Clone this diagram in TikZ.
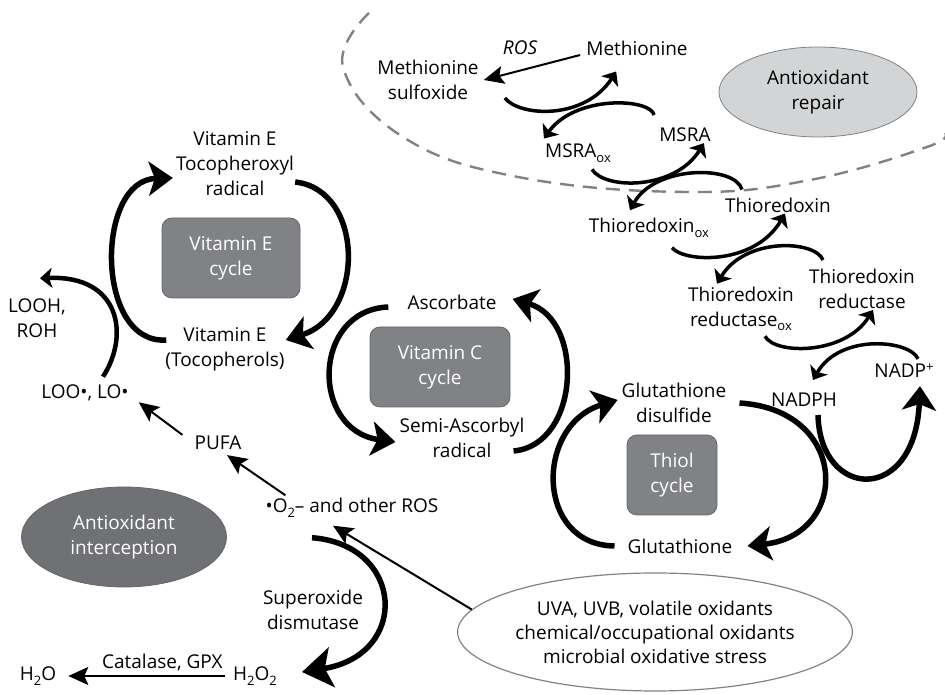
\documentclass[tikz,border=0pt]{standalone}
\usepackage{fontspec}
\setmainfont{Open Sans}
\usetikzlibrary{arrows.meta,shapes.geometric}
\definecolor{cyclegray}{RGB}{128,130,133}
\definecolor{edgegray}{RGB}{100,101,104}
\definecolor{intergray}{RGB}{112,113,116}
\definecolor{repairgray}{RGB}{211,212,213}
\definecolor{linegray}{RGB}{128,130,133}
\newcommand{\subtxt}[1]{\raisebox{-0.45ex}{\fontsize{13}{13}\selectfont #1}}
\newcommand{\suptxt}[1]{\raisebox{0.6ex}{\fontsize{13}{13}\selectfont #1}}

\begin{document}
\begin{tikzpicture}[x=1pt,y=1pt,
    every node/.style={font=\fontsize{19}{25}\selectfont, align=center, inner sep=1pt},
    cyclebox/.style={rounded corners=10pt, fill=cyclegray, draw=edgegray, line width=0.8pt,
      text=white, minimum height=80pt},
    thinarrow/.style={line width=2pt, -{Stealth[length=20pt,width=18pt,inset=4pt]}},
    swoosh/.style={line width=3.5pt, -{Stealth[length=12pt,width=20pt,inset=3pt]}},
    bigswoosh/.style={line width=5.5pt, -{Stealth[length=24pt,width=34pt,inset=6pt]}}]
  \useasboundingbox (0,0) rectangle (945,695);

  % repair region
  \draw[linegray, line width=2.4pt, dash pattern=on 14pt off 9pt]
    plot[smooth, tension=0.7] coordinates {(369,682) (343,628) (403,558) (518,518)
      (686,503) (810,515) (927,548) (945,562)};
  \node[ellipse, fill=repairgray, draw=linegray, line width=0.8pt,
    minimum width=198pt, minimum height=90pt, inner sep=0pt] (repair) at (818,603)
    {Antioxidant\\repair};

  \node (ros) at (520,647) {\itshape ROS};
  \node (meth) at (637,647) {Methionine};
  \node (msulf) at (428,615) {Methionine\\sulfoxide};
  \node (msra) at (685,560) {MSRA};
  \node (msraox) at (578,542) {MSRA\subtxt{ox}};
  \node (trx) at (778,490) {Thioredoxin};
  \node (trxox) at (649,467) {Thioredoxin\subtxt{ox}};
  \node (trr) at (862,406) {Thioredoxin\\reductase};
  \node (trrox) at (741,386) {Thioredoxin\\reductase\subtxt{ox}};
  \node (nadp) at (904,324) {NADP\suptxt{+}};
  \node (nadph) at (804,295) {NADPH};

  \draw[thinarrow] ([xshift=-5pt,yshift=-7pt]meth.west) -- ([xshift=4pt]msulf.east);
  \draw[swoosh] ([xshift=25pt,yshift=3pt]msulf.south east)
    .. controls (520,578) and (585,575) .. ([xshift=31pt,yshift=-15pt]meth.south west);
  \draw[swoosh] ([xshift=-4pt,yshift=20pt]msra.west)
    .. controls (650,597) and (575,600) .. ([yshift=4pt]msraox.north west);
  \draw[swoosh] ([xshift=14pt,yshift=-6pt]msraox.south)
    .. controls (605,505) and (675,505) .. ([xshift=-8pt]msra.south east);
  \draw[swoosh] ([xshift=18pt,yshift=7pt]trx.north west)
    .. controls (735,530) and (655,530) .. ([xshift=-19pt,yshift=7pt]trxox.north);
  \draw[swoosh] ([xshift=23pt,yshift=-9pt]trxox.south)
    .. controls (685,432) and (755,430) .. ([xshift=7pt]trx.south);
  \draw[swoosh] ([xshift=-39pt,yshift=8pt]trr.north)
    .. controls (815,455) and (745,458) .. ([xshift=-24pt,yshift=2pt]trrox.north);
  \draw[swoosh] ([xshift=24pt,yshift=-4pt]trrox.south)
    .. controls (775,340) and (845,340) .. ([xshift=11pt]trr.south);
  \draw[swoosh] ([xshift=14pt,yshift=4pt]nadp.north)
    .. controls (910,355) and (840,362) .. ([xshift=9pt,yshift=12pt]nadph.north);
  \draw[bigswoosh] ([xshift=14pt,yshift=-7pt]nadph.south)
    .. controls (820,195) and (915,190) .. ([xshift=16pt,yshift=-7pt]nadp.south);

  % thiol cycle
  \node (gssg) at (674,292) {Glutathione\\disulfide};
  \node[cyclebox, minimum width=90pt] (thiol) at (672,220) {Thiol\\cycle};
  \node (gsh) at (680,149) {Glutathione};
  \draw[bigswoosh] ([xshift=-12pt]gsh.west)
    .. controls (535,150) and (535,270) .. ([xshift=-3pt,yshift=3pt]gssg.west);
  \draw[bigswoosh] ([xshift=12pt]gssg.east)
    .. controls (850,285) and (850,160) .. ([xshift=14pt]gsh.east);

  % vitamin E cycle
  \node (vitEr) at (235,531) {Vitamin E\\Tocopheroxyl\\radical};
  \node[cyclebox, minimum width=138pt] (vitEbox) at (231,437) {Vitamin E\\cycle};
  \node (vitE) at (225,346) {Vitamin E\\(Tocopherols)};
  \draw[bigswoosh] ([xshift=2pt,yshift=9pt]vitE.west)
    .. controls (95,350) and (95,515) .. ([xshift=-2pt,yshift=-14pt]vitEr.west);
  \draw[bigswoosh] ([yshift=-18pt]vitEr.east)
    .. controls (365,505) and (365,380) .. ([yshift=9pt]vitE.east);

  % vitamin C cycle
  \node (asc) at (452,393) {Ascorbate};
  \node[cyclebox, minimum width=140pt] (vitCbox) at (440,328) {Vitamin C\\cycle};
  \node (semi) at (462,257) {Semi-Ascorbyl\\radical};
  \draw[bigswoosh] ([xshift=-18pt,yshift=-5pt]asc.west)
    .. controls (312,385) and (310,265) .. ([xshift=-3pt,yshift=-4pt]semi.west);
  \draw[bigswoosh] ([xshift=-12pt,yshift=-13pt]semi.east)
    .. controls (580,250) and (585,375) .. ([xshift=15pt,yshift=3pt]asc.east);

  % interception
  \node (looh) at (37,377) {LOOH,\\ROH};
  \node (loo) at (85,302) {LOO•, LO•};
  \node (pufa) at (218,252) {PUFA};
  \node (o2) at (352,187) {•O\subtxt{2}– and other ROS};
  \node[ellipse, fill=intergray, draw=edgegray, line width=0.8pt, text=white,
    minimum width=205pt, minimum height=100pt, inner sep=0pt] (intercept) at (124,158)
    {Antioxidant\\interception};
  \node (sod) at (313,85) {Superoxide\\dismutase};
  \node (h2o2) at (255,19) {H\subtxt{2}O\subtxt{2}};
  \node (h2o) at (38,19) {H\subtxt{2}O};
  \node[ellipse, draw=linegray, line width=1.2pt, minimum width=350pt,
    minimum height=118pt, inner sep=0pt, font=\fontsize{19}{24}\selectfont] (uva) at (655,63)
    {UVA, UVB, volatile oxidants\\chemical/occupational oxidants\\microbial oxidative stress};

  \draw[swoosh, line width=4.5pt] ([xshift=18pt,yshift=7pt]loo.north)
    .. controls (130,360) and (120,420) .. ([xshift=3pt,yshift=19pt]looh.north);
  \draw[thinarrow] ([xshift=-11pt]pufa.north west) -- ([xshift=9pt]loo.south east);
  \draw[thinarrow] ([xshift=21pt,yshift=2pt]o2.north west) -- ([xshift=9pt,yshift=-4pt]pufa.south);
  \draw[thinarrow] (uva.173) -- ([xshift=-19pt,yshift=-7pt]o2.south);
  \draw[bigswoosh, -{Stealth[length=30pt,width=40pt,inset=7pt]}] ([xshift=-40pt,yshift=-19pt]o2.south)
    .. controls (405,150) and (410,40) .. ([xshift=24pt,yshift=4pt]h2o2.east);
  \draw[thinarrow] ([xshift=-7pt]h2o2.west) -- ([xshift=11pt]h2o.east)
    node[pos=0.4, above=3pt] (cat) {Catalase, GPX};
\end{tikzpicture}
\end{document}
